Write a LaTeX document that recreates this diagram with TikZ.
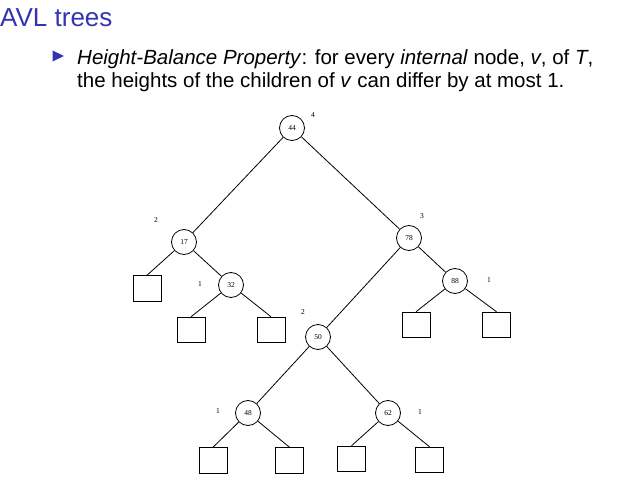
\documentclass[tikz,border=0pt]{standalone}
\usepackage{fontspec}
\setmainfont{Liberation Sans}
\newfontfamily\treefont{Liberation Serif}
\definecolor{structblue}{RGB}{51,51,179}
\begin{document}
\begin{tikzpicture}[x=1pt,y=-1pt,
  main node/.style={circle,draw,line width=0.8pt,minimum size=25pt,inner sep=0pt,font=\treefont\fontsize{7.5}{8}\selectfont},
  leaf node/.style={draw,line width=1pt,minimum width=28pt,minimum height=25.5pt,inner sep=0pt},
  height label/.style={inner sep=0pt,font=\treefont\fontsize{7.5}{8}\selectfont}]
  \useasboundingbox (0,0) rectangle (622,492);

  % heading
  \node[anchor=base west,inner sep=0pt,text=structblue,font=\fontsize{26}{30}\selectfont] (title) at (0,27) {AVL trees};
  \fill[structblue] (52.5,50.5) -- (64,56) -- (52.5,61.5) -- cycle;
  \node[anchor=base west,inner sep=0pt,align=left,font=\fontsize{20.5}{23}\selectfont] (text) at (77,88)
    {\textit{Height-Balance Property}: for every \textit{internal} node, \textit{v}, of \textit{T},\\
     the heights of the children of \textit{v} can differ by at most 1.};

  % internal nodes
  \node[main node] (44) at (292,128) {44};
  \node[main node] (17) at (184,242) {17};
  \node[main node] (32) at (231,285) {32};
  \node[main node] (78) at (409,238) {78};
  \node[main node] (88) at (455,281) {88};
  \node[main node] (50) at (318,337) {50};
  \node[main node] (48) at (248,413) {48};
  \node[main node] (62) at (388,413) {62};

  % external nodes
  \node[leaf node] (l17) at (147,288.5) {};
  \node[leaf node] (l32) at (191,330) {};
  \node[leaf node] (r32) at (271,330) {};
  \node[leaf node] (l88) at (416,325) {};
  \node[leaf node] (r88) at (496.5,325) {};
  \node[leaf node] (l48) at (213,460.5) {};
  \node[leaf node] (r48) at (289.5,460.5) {};
  \node[leaf node] (l62) at (351.5,459) {};
  \node[leaf node] (r62) at (429.5,460) {};

  % heights
  \node[height label] (h44) at (313,115) {4};
  \node[height label] (h17) at (156,220) {2};
  \node[height label] (h32) at (200,284) {1};
  \node[height label] (h78) at (422,216) {3};
  \node[height label] (h88) at (489,280) {1};
  \node[height label] (h50) at (303,312) {2};
  \node[height label] (h48) at (218,411) {1};
  \node[height label] (h62) at (420,412) {1};

  \path[line width=0.8pt]
    (44) edge (17)
    (44) edge (78)
    (17) edge (32)
    (78) edge (88)
    (78) edge (50)
    (50) edge (48)
    (50) edge (62);

  \path[line width=0.8pt]
    (17) edge (l17.north)
    (32) edge (l32.north)
    (32) edge (r32.north)
    (88) edge (l88.north)
    (88) edge (r88.north)
    (48) edge (l48.north)
    (48) edge (r48.north)
    (62) edge (l62.north)
    (62) edge (r62.north);
\end{tikzpicture}
\end{document}
